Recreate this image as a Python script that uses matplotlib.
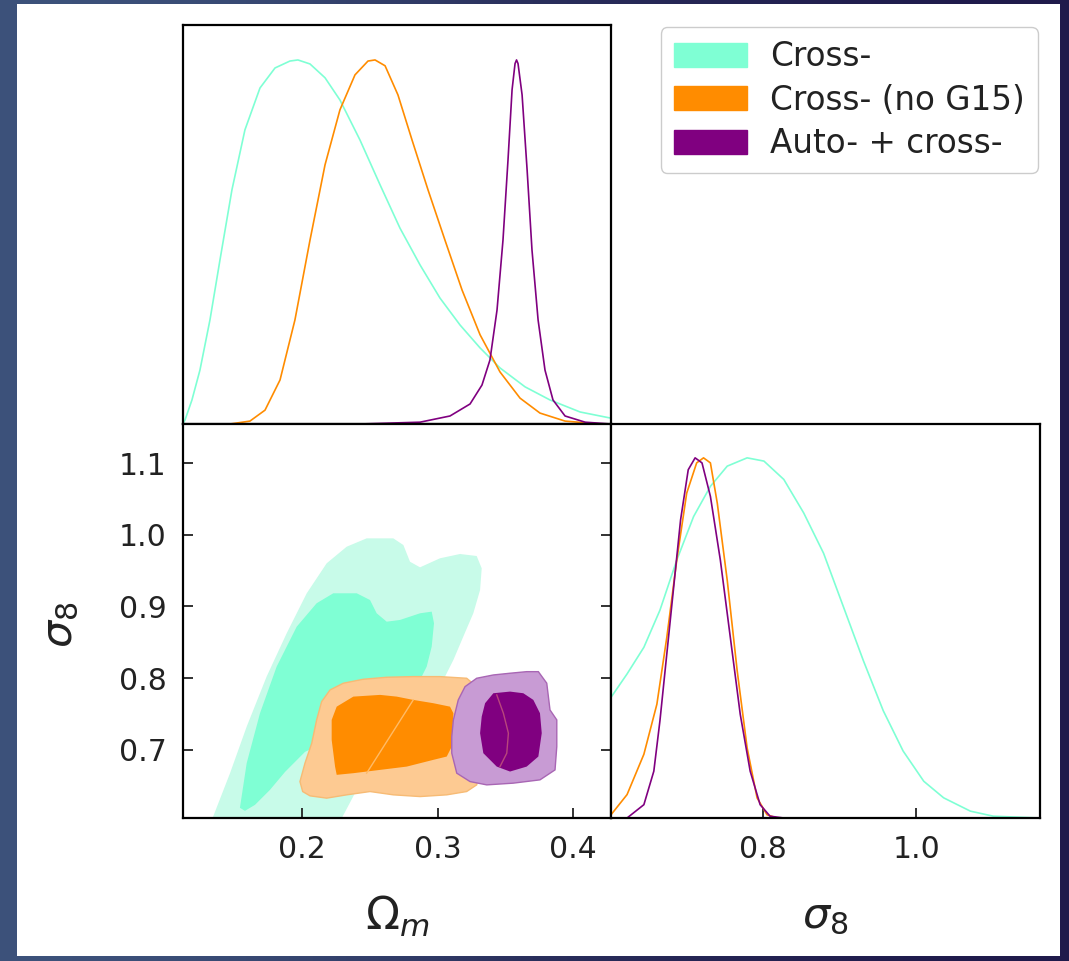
import matplotlib
matplotlib.use("Agg")
import matplotlib.pyplot as plt
import numpy as np
from matplotlib.patches import Patch, Rectangle
from matplotlib.colors import LinearSegmentedColormap

labels = ["Cross-", "Cross- (no G15)", "Auto- + cross-"]
line_colors = ["aquamarine", "darkorange", "purple"]
dark_fill = ["#7fffd4", "#ff8c00", "#800080"]
light_fill = ["#c8fbe9", "#fdca92", "#c89bd4"]

# 1D marginals of Omega_m (peak normalised)
om_cross_x = [0.112, 0.1137, 0.1188, 0.1247, 0.1321, 0.1395, 0.1483, 0.1579, 0.169, 0.1801,
              0.1911, 0.197, 0.2059, 0.217, 0.228, 0.2428, 0.2576, 0.2723, 0.2871, 0.3018,
              0.3166, 0.3314, 0.3461, 0.3646, 0.383, 0.4052, 0.428]
om_cross_y = [0.0, 0.011, 0.066, 0.148, 0.286, 0.451, 0.643, 0.808, 0.923, 0.978,
              0.997, 1.0, 0.989, 0.951, 0.89, 0.78, 0.657, 0.538, 0.437, 0.346,
              0.272, 0.209, 0.154, 0.102, 0.066, 0.033, 0.016]
om_nog15_x = [0.1469, 0.1616, 0.1727, 0.1838, 0.1948, 0.2059, 0.217, 0.228, 0.2391, 0.2487,
              0.2539, 0.2613, 0.2708, 0.2812, 0.293, 0.3055, 0.3181, 0.3314, 0.3461, 0.3609,
              0.3756, 0.3941, 0.42]
om_nog15_y = [0.0, 0.008, 0.038, 0.121, 0.286, 0.505, 0.712, 0.863, 0.959, 0.997,
              1.0, 0.984, 0.904, 0.78, 0.643, 0.505, 0.368, 0.245, 0.143, 0.071,
              0.03, 0.008, 0.0]
om_auto_x = [0.2428, 0.2871, 0.3092, 0.324, 0.3328, 0.3387, 0.3439, 0.3483, 0.352, 0.355,
             0.3572, 0.3583, 0.3594, 0.3624, 0.3661, 0.3697, 0.3742, 0.3793, 0.3852, 0.3941,
             0.4089, 0.428]
om_auto_y = [0.0, 0.005, 0.022, 0.055, 0.107, 0.176, 0.313, 0.505, 0.725, 0.918,
             0.99, 1.0, 0.99, 0.904, 0.698, 0.478, 0.286, 0.148, 0.066, 0.022,
             0.005, 0.0]

# 1D marginals of sigma_8
s8_cross_x = [0.601, 0.622, 0.644, 0.665, 0.687, 0.709, 0.731, 0.753, 0.779, 0.801, 0.827,
              0.853, 0.879, 0.905, 0.931, 0.957, 0.983, 1.010, 1.036, 1.071, 1.101, 1.162]
s8_cross_y = [0.335, 0.40, 0.474, 0.577, 0.716, 0.837, 0.921, 0.977, 1.0, 0.991, 0.94,
              0.847, 0.735, 0.586, 0.437, 0.298, 0.186, 0.102, 0.056, 0.019, 0.005, 0.0]
s8_nog15_x = [0.601, 0.622, 0.644, 0.661, 0.674, 0.687, 0.700, 0.713, 0.722, 0.731, 0.740,
              0.753, 0.766, 0.779, 0.792, 0.805, 0.818, 1.162]
s8_nog15_y = [0.009, 0.065, 0.177, 0.316, 0.502, 0.716, 0.902, 0.986, 1.0, 0.986, 0.874,
              0.66, 0.409, 0.195, 0.056, 0.009, 0.0, 0.0]
s8_auto_x = [0.601, 0.622, 0.644, 0.657, 0.665, 0.674, 0.683, 0.692, 0.702, 0.711, 0.720,
             0.731, 0.744, 0.757, 0.770, 0.783, 0.796, 0.809, 0.827, 1.162]
s8_auto_y = [0.0, 0.0, 0.037, 0.13, 0.27, 0.456, 0.642, 0.828, 0.967, 1.0, 0.986,
             0.893, 0.716, 0.502, 0.288, 0.13, 0.037, 0.005, 0.0, 0.0]

# 2D contours (95% and 68%) in the Omega_m - sigma_8 plane
cross_95_om = [0.133, 0.1469, 0.1592, 0.1739, 0.1887, 0.2035, 0.2182, 0.233, 0.2477, 0.2674,
               0.2748, 0.2797, 0.2871, 0.3018, 0.3166, 0.3289, 0.3326, 0.3314, 0.3264, 0.319,
               0.3117, 0.3043, 0.2821, 0.2576, 0.2404, 0.228]
cross_95_s8 = [0.600, 0.6675, 0.7325, 0.8022, 0.8626, 0.9184, 0.9602, 0.9834, 0.995, 0.995,
               0.9857, 0.9624, 0.9546, 0.9672, 0.9732, 0.9704, 0.9532, 0.923, 0.8905, 0.8579,
               0.8254, 0.7976, 0.7418, 0.6907, 0.6443, 0.600]
cross_68_om = [0.1542, 0.1592, 0.169, 0.1813, 0.1961, 0.2108, 0.2231, 0.2404, 0.2502, 0.2551,
               0.2625, 0.2723, 0.2871, 0.2957, 0.2974, 0.2957, 0.292, 0.2871, 0.2773, 0.2576,
               0.228, 0.2022, 0.1875, 0.1764, 0.1653, 0.1579]
cross_68_s8 = [0.6192, 0.6815, 0.7511, 0.8161, 0.8718, 0.9045, 0.9184, 0.9184, 0.909, 0.8905,
               0.8788, 0.8812, 0.8905, 0.8928, 0.8766, 0.844, 0.8161, 0.7976, 0.7697, 0.7488,
               0.7209, 0.6972, 0.6693, 0.6443, 0.6233, 0.615]
nog15_95_om = [0.1985, 0.2005, 0.2059, 0.2182, 0.233, 0.2502, 0.2674, 0.2871, 0.3068, 0.3215,
               0.3289, 0.3314, 0.3314, 0.3289, 0.3215, 0.3018, 0.2821, 0.2625, 0.2452, 0.2305,
               0.2207, 0.2145, 0.2108, 0.2072, 0.2022]
nog15_95_s8 = [0.6558, 0.6419, 0.6359, 0.6327, 0.6373, 0.6419, 0.6373, 0.6349, 0.6373, 0.6419,
               0.6512, 0.6721, 0.7511, 0.7882, 0.7999, 0.8022, 0.8022, 0.8013, 0.7985, 0.793,
               0.7836, 0.7673, 0.7418, 0.7093, 0.6815]
nog15_68_om = [0.2219, 0.2244, 0.2256, 0.2379, 0.2576, 0.2773, 0.2969, 0.3068, 0.3105, 0.3117,
               0.3092, 0.2969, 0.2821, 0.2699, 0.2576, 0.2379, 0.2256, 0.2219]
nog15_68_s8 = [0.7139, 0.6767, 0.6652, 0.6675, 0.6721, 0.6767, 0.6861, 0.6907, 0.7046, 0.7511,
               0.7603, 0.7651, 0.7697, 0.7743, 0.7767, 0.7743, 0.7603, 0.7418]
auto_95_om = [0.3105, 0.3142, 0.324, 0.3363, 0.3559, 0.3756, 0.3867, 0.388, 0.388, 0.383,
              0.3806, 0.3744, 0.3658, 0.3535, 0.3412, 0.3289, 0.3203, 0.3153, 0.3117, 0.3105]
auto_95_s8 = [0.6954, 0.6675, 0.6558, 0.6512, 0.6536, 0.6582, 0.6721, 0.7046, 0.7418, 0.7557,
              0.793, 0.8091, 0.8091, 0.8069, 0.8045, 0.7999, 0.7882, 0.7697, 0.7418, 0.7185]
auto_68_om = [0.3314, 0.3338, 0.3437, 0.3535, 0.3658, 0.3744, 0.3769, 0.3756, 0.3707, 0.3633,
              0.3535, 0.3412, 0.3351, 0.3326]
auto_68_s8 = [0.7233, 0.6954, 0.6767, 0.6698, 0.6767, 0.6907, 0.7233, 0.7511, 0.7697, 0.779,
              0.7813, 0.779, 0.7651, 0.7464]

# faint seams visible inside the filled regions
nog15_seam_om = [0.2477, 0.2821]
nog15_seam_s8 = [0.6675, 0.7697]
auto_seam_om = [0.3437, 0.3486, 0.3523, 0.3511, 0.3461]
auto_seam_s8 = [0.7767, 0.7511, 0.7233, 0.6954, 0.6767]

om_ticks = [0.2, 0.3, 0.4]
s8_ticks_2d = [0.7, 0.8, 0.9, 1.0, 1.1]
s8_ticks_1d = [0.8, 1.0]
om_lim = (0.1122, 0.428)
s8_lim_2d = (0.605, 1.1545)
s8_lim_1d = (0.601, 1.162)

W, H = 1069, 961
fig = plt.figure(figsize=(W / 100, H / 100), dpi=100)


def box(x0, y0, x1, y1):
    return [x0 / W, 1 - y1 / H, (x1 - x0) / W, (y1 - y0) / H]


# slide background + white panel
bg = fig.add_axes([0, 0, 1, 1], zorder=-10)
bg_cmap = LinearSegmentedColormap.from_list("bg", ["#3d537c", "#2a2f5c", "#1f1a4b"])
bg.imshow(np.array([[0.0, 0.5, 1.0]]), cmap=bg_cmap, aspect="auto",
          extent=[0, 1, 0, 1], interpolation="bicubic")
bg.axis("off")
fig.add_artist(Rectangle((17 / W, 1 - 956 / H), (1060 - 17) / W, (956 - 4) / H,
                         transform=fig.transFigure, facecolor="white",
                         edgecolor="none", zorder=-5))

ax_om = fig.add_axes(box(183, 25, 611, 424))
ax_2d = fig.add_axes(box(183, 424, 611, 818))
ax_s8 = fig.add_axes(box(611, 424, 1040, 818))

for ax in (ax_om, ax_2d, ax_s8):
    for sp in ax.spines.values():
        sp.set_linewidth(1.6)
    ax.tick_params(direction="in", length=7, width=1.3, labelsize=21.5, pad=12,
                   colors="#222222")

# top panel: Omega_m marginal
ax_om.plot(om_cross_x, om_cross_y, color=line_colors[0], lw=1.2)
ax_om.plot(om_nog15_x, om_nog15_y, color=line_colors[1], lw=1.2)
ax_om.plot(om_auto_x, om_auto_y, color=line_colors[2], lw=1.2)
ax_om.set_xlim(om_lim)
ax_om.set_ylim(0, 1.096)
ax_om.set_xticks([])
ax_om.set_yticks([])

# 2D panel
ax_2d.fill(cross_95_om, cross_95_s8, facecolor=light_fill[0], edgecolor="none")
ax_2d.fill(cross_68_om, cross_68_s8, facecolor=dark_fill[0], edgecolor="none")
ax_2d.fill(nog15_95_om, nog15_95_s8, facecolor=light_fill[1], edgecolor="#f7bb75", lw=1)
ax_2d.fill(nog15_68_om, nog15_68_s8, facecolor=dark_fill[1], edgecolor="none")
ax_2d.plot(nog15_seam_om, nog15_seam_s8, color="#ffbb66", lw=1)
ax_2d.fill(auto_95_om, auto_95_s8, facecolor=light_fill[2], edgecolor="#a866b4", lw=1)
ax_2d.fill(auto_68_om, auto_68_s8, facecolor=dark_fill[2], edgecolor="none")
ax_2d.plot(auto_seam_om, auto_seam_s8, color="#b8467c", lw=1)
ax_2d.set_xlim(om_lim)
ax_2d.set_ylim(s8_lim_2d)
ax_2d.set_xticks(om_ticks)
ax_2d.set_xticklabels([f"{t:.1f}" for t in om_ticks])
ax_2d.set_yticks(s8_ticks_2d)
ax_2d.set_yticklabels([f"{t:.1f}" for t in s8_ticks_2d])
ax_2d.tick_params(right=True)

# bottom-right: sigma_8 marginal
ax_s8.plot(s8_cross_x, s8_cross_y, color=line_colors[0], lw=1.2)
ax_s8.plot(s8_nog15_x, s8_nog15_y, color=line_colors[1], lw=1.2)
ax_s8.plot(s8_auto_x, s8_auto_y, color=line_colors[2], lw=1.2)
ax_s8.set_xlim(s8_lim_1d)
ax_s8.set_ylim(0, 1.094)
ax_s8.set_xticks(s8_ticks_1d)
ax_s8.set_xticklabels([f"{t:.1f}" for t in s8_ticks_1d])
ax_s8.set_yticks([])

# axis labels
fig.text(397 / W, 1 - 916 / H, r"$\Omega_m$", fontsize=32, ha="center", va="center",
         color="#222222")
fig.text(825 / W, 1 - 916 / H, r"$\sigma_8$", fontsize=31, ha="center", va="center",
         color="#222222")
fig.text(60 / W, 1 - 625 / H, r"$\sigma_8$", fontsize=31, ha="center", va="center",
         rotation=90, color="#222222")

handles = [Patch(facecolor=c, edgecolor=c) for c in dark_fill]
fig.legend(handles, labels, loc="upper right", bbox_to_anchor=(1038 / W, 1 - 27 / H),
           bbox_transform=fig.transFigure, borderaxespad=0, fontsize=23.5,
           handlelength=2.25, handleheight=0.75, handletextpad=0.7, labelspacing=0.32,
           borderpad=0.4, frameon=True, framealpha=1, edgecolor="#cccccc",
           labelcolor="#222222")

fig.savefig("out.png", dpi=100)
